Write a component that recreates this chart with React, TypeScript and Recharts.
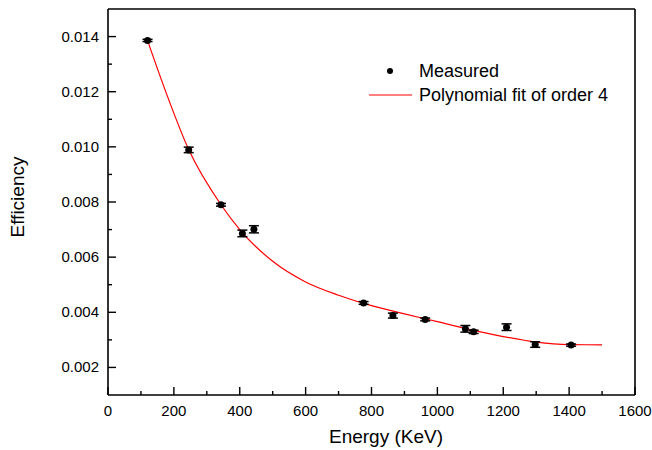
import {
	ComposedChart,
	Line,
	Scatter,
	XAxis,
	YAxis,
	ErrorBar,
	Legend,
	Label,
} from "recharts";

// measured points
const energy = [120, 245, 343, 408, 443, 776, 865, 963, 1085, 1110, 1210, 1297, 1406];
const efficiency = [
	0.01386, 0.00989, 0.0079, 0.00686, 0.00701, 0.00434, 0.00388, 0.00374,
	0.0034, 0.00329, 0.00346, 0.00283, 0.00281,
];
const efficiencyErr = [
	0.00004, 0.0001, 0.00005, 0.00012, 0.00013, 0.00005, 0.00009, 0.00005,
	0.00012, 0.00006, 0.00012, 0.0001, 0.00004,
];

// polynomial fit curve
const fitEnergy = [120, 180, 245, 343, 400, 500, 600, 700, 800, 900, 1000, 1100, 1200, 1300, 1400, 1500];
const fitEfficiency = [
	0.01386, 0.01185, 0.0099, 0.0079, 0.007, 0.00585, 0.0051, 0.00462, 0.00424,
	0.00394, 0.00366, 0.00337, 0.00312, 0.00292, 0.00283, 0.00282,
];

const xTicks = [0, 100, 200, 300, 400, 500, 600, 700, 800, 900, 1000, 1100, 1200, 1300, 1400, 1500, 1600];
const yTicks = [
	0.002, 0.003, 0.004, 0.005, 0.006, 0.007, 0.008, 0.009, 0.01, 0.011, 0.012,
	0.013, 0.014,
];

const seriesNames = ["Measured", "Polynomial fit of order 4"];

const measured = energy.map((e, i) => ({
	energy: e,
	eff: efficiency[i],
	err: efficiencyErr[i],
}));
const fit = fitEnergy.map((e, i) => ({ energy: e, fit: fitEfficiency[i] }));

const FONT = "'Liberation Sans', Arial, sans-serif";
const AXIS = { stroke: "#000", strokeWidth: 1.6 };

const isMajorX = (v: number) => v % 200 === 0;
const isMajorY = (v: number) => Math.round(v * 1000) % 2 === 0;

// ticks point inward, labels only on the bottom and left axes
const BottomTick = (props: any) => {
	const { x, y, payload } = props;
	const major = isMajorX(payload.value);
	return (
		<g>
			<line x1={x} x2={x} y1={y} y2={y - (major ? 8 : 4)} stroke="#000" strokeWidth={1.4} />
			{major && (
				<text x={x} y={y + 21} textAnchor="middle" fontSize={15} fontFamily={FONT} fill="#000">
					{payload.value}
				</text>
			)}
		</g>
	);
};

const TopTick = (props: any) => {
	const { x, y, payload } = props;
	const major = isMajorX(payload.value);
	return <line x1={x} x2={x} y1={y} y2={y + (major ? 8 : 4)} stroke="#000" strokeWidth={1.4} />;
};

const LeftTick = (props: any) => {
	const { x, y, payload } = props;
	const major = isMajorY(payload.value);
	return (
		<g>
			<line x1={x} x2={x + (major ? 8 : 4)} y1={y} y2={y} stroke="#000" strokeWidth={1.4} />
			{major && (
				<text x={x - 9} y={y + 5} textAnchor="end" fontSize={15} fontFamily={FONT} fill="#000">
					{payload.value.toFixed(3)}
				</text>
			)}
		</g>
	);
};

const RightTick = (props: any) => {
	const { x, y, payload } = props;
	const major = isMajorY(payload.value);
	return <line x1={x} x2={x - (major ? 8 : 4)} y1={y} y2={y} stroke="#000" strokeWidth={1.4} />;
};

const renderLegend = () => (
	<svg width={290} height={50} style={{ overflow: "visible" }}>
		<circle cx={30} cy={13} r={3} fill="#000" />
		<text x={59} y={19} fontSize={18} fontFamily={FONT} fill="#000">
			{seriesNames[0]}
		</text>
		<line x1={9} x2={52} y1={37} y2={37} stroke="#ff0000" strokeWidth={1} />
		<text x={59} y={43} fontSize={18} fontFamily={FONT} fill="#000">
			{seriesNames[1]}
		</text>
	</svg>
);

export default function App() {
	return (
		<div style={{ position: "absolute", left: 0, top: 0, background: "#fff" }}>
			<ComposedChart
				width={652}
				height={450}
				margin={{ top: 0, right: 0, bottom: 0, left: 0 }}
			>
				<XAxis
					xAxisId="b"
					dataKey="energy"
					type="number"
					domain={[0, 1600]}
					ticks={xTicks}
					interval={0}
					height={55}
					tickSize={0}
					tickMargin={0}
					tickLine={false}
					axisLine={AXIS}
					tick={<BottomTick />}
				>
					<Label
						content={() => (
							<text x={386} y={443} textAnchor="middle" fontSize={19} fontFamily={FONT} fill="#000">
								Energy (KeV)
							</text>
						)}
					/>
				</XAxis>
				<XAxis
					xAxisId="t"
					orientation="top"
					type="number"
					domain={[0, 1600]}
					ticks={xTicks}
					interval={0}
					height={9}
					tickSize={0}
					tickMargin={0}
					tickLine={false}
					axisLine={AXIS}
					tick={<TopTick />}
				/>
				<YAxis
					yAxisId="l"
					type="number"
					domain={[0.001, 0.015]}
					ticks={yTicks}
					interval={0}
					width={108}
					tickSize={0}
					tickMargin={0}
					tickLine={false}
					axisLine={AXIS}
					tick={<LeftTick />}
				>
					<Label
						content={() => (
							<text
								x={24}
								y={197}
								transform="rotate(-90 24 197)"
								textAnchor="middle"
								fontSize={19}
								fontFamily={FONT}
								fill="#000"
							>
								Efficiency
							</text>
						)}
					/>
				</YAxis>
				<YAxis
					yAxisId="r"
					orientation="right"
					type="number"
					domain={[0.001, 0.015]}
					ticks={yTicks}
					interval={0}
					width={17}
					tickSize={0}
					tickMargin={0}
					tickLine={false}
					axisLine={AXIS}
					tick={<RightTick />}
				/>
				<Legend
					layout="vertical"
					align="center"
					verticalAlign="middle"
					content={renderLegend}
					wrapperStyle={{ left: 360, top: 58, width: 290, height: 50 }}
				/>
				<Line
					xAxisId="b"
					yAxisId="l"
					data={fit}
					dataKey="fit"
					name={seriesNames[1]}
					type="monotone"
					stroke="#ff0000"
					strokeWidth={1.2}
					dot={false}
					activeDot={false}
					isAnimationActive={false}
				/>
				<Scatter
					xAxisId="b"
					yAxisId="l"
					data={measured}
					dataKey="eff"
					name={seriesNames[0]}
					fill="#000"
					shape={(p: any) => <circle cx={p.cx} cy={p.cy} r={3.5} fill="#000" />}
					isAnimationActive={false}
				>
					<ErrorBar dataKey="err" direction="y" width={5} stroke="#000" strokeWidth={1.5} />
				</Scatter>
			</ComposedChart>
		</div>
	);
}
